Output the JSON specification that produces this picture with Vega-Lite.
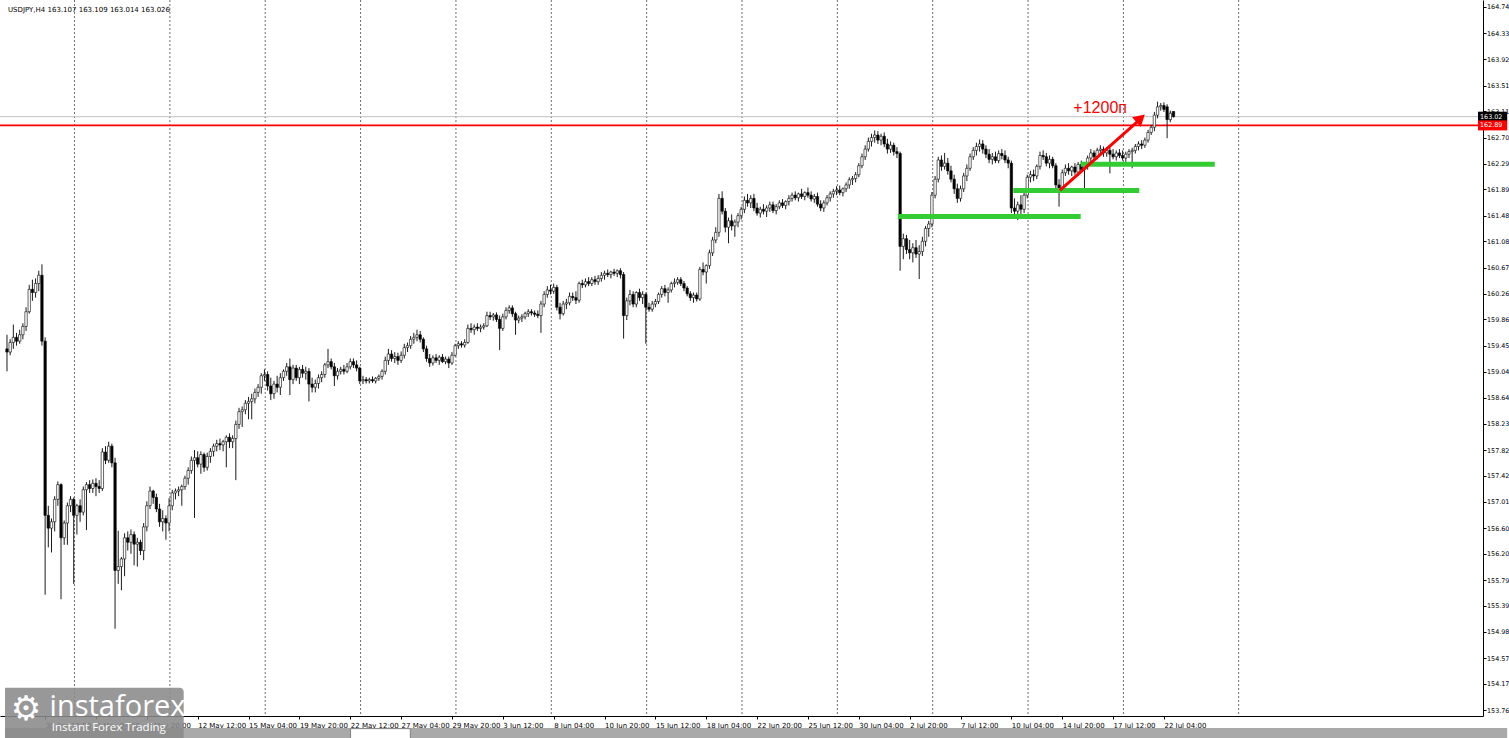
{
"$schema":"https://vega.github.io/schema/vega-lite/v6.json",
"width":1483,"height":716,
"autosize":{"type":"none"},
"padding":{"left":0,"top":0,"right":26,"bottom":22},
"background":"#ffffff",
"view":{"stroke":null},
"config":{"font":"DejaVu Sans"},
"resolve":{"axis":{"x":"independent","y":"independent"}},
"datasets":{
"k":[
{"i":0,"o":159.40,"h":159.62,"l":159.05,"c":159.35},
{"i":1,"o":159.35,"h":159.55,"l":159.30,"c":159.50},
{"i":2,"o":159.50,"h":159.78,"l":159.40,"c":159.58},
{"i":3,"o":159.58,"h":159.65,"l":159.45,"c":159.52},
{"i":4,"o":159.52,"h":159.70,"l":159.48,"c":159.62},
{"i":5,"o":159.62,"h":159.80,"l":159.55,"c":159.75},
{"i":6,"o":159.75,"h":160.05,"l":159.68,"c":159.98},
{"i":7,"o":159.98,"h":160.40,"l":159.95,"c":160.33},
{"i":8,"o":160.33,"h":160.48,"l":160.15,"c":160.28},
{"i":9,"o":160.28,"h":160.50,"l":160.20,"c":160.42},
{"i":10,"o":160.42,"h":160.62,"l":160.30,"c":160.55},
{"i":11,"o":160.55,"h":160.72,"l":159.45,"c":159.52},
{"i":12,"o":159.52,"h":159.58,"l":155.56,"c":156.80},
{"i":13,"o":156.80,"h":156.95,"l":156.30,"c":156.60},
{"i":14,"o":156.60,"h":156.75,"l":156.22,"c":156.70},
{"i":15,"o":156.70,"h":157.10,"l":156.55,"c":157.05},
{"i":16,"o":157.05,"h":157.33,"l":156.95,"c":157.28},
{"i":17,"o":157.28,"h":157.30,"l":155.49,"c":156.45},
{"i":18,"o":156.45,"h":156.72,"l":156.34,"c":156.68},
{"i":19,"o":156.68,"h":157.00,"l":156.34,"c":156.95},
{"i":20,"o":156.95,"h":157.10,"l":156.85,"c":157.05},
{"i":21,"o":157.05,"h":157.08,"l":155.73,"c":156.80},
{"i":22,"o":156.80,"h":156.98,"l":156.50,"c":156.95},
{"i":23,"o":156.95,"h":157.05,"l":156.70,"c":156.85},
{"i":24,"o":156.85,"h":157.25,"l":156.80,"c":157.20},
{"i":25,"o":157.20,"h":157.32,"l":156.57,"c":157.28},
{"i":26,"o":157.28,"h":157.35,"l":157.15,"c":157.22},
{"i":27,"o":157.22,"h":157.36,"l":157.15,"c":157.30},
{"i":28,"o":157.30,"h":157.38,"l":157.10,"c":157.25},
{"i":29,"o":157.25,"h":157.35,"l":157.15,"c":157.22},
{"i":30,"o":157.22,"h":157.85,"l":157.18,"c":157.79},
{"i":31,"o":157.79,"h":157.88,"l":157.60,"c":157.66},
{"i":32,"o":157.66,"h":157.95,"l":157.62,"c":157.88},
{"i":33,"o":157.88,"h":157.92,"l":157.55,"c":157.62},
{"i":34,"o":157.62,"h":157.70,"l":155.03,"c":155.94},
{"i":35,"o":155.94,"h":156.56,"l":155.73,"c":156.00},
{"i":36,"o":156.00,"h":156.15,"l":155.63,"c":156.12},
{"i":37,"o":156.12,"h":156.52,"l":155.85,"c":156.45},
{"i":38,"o":156.45,"h":156.55,"l":156.25,"c":156.38},
{"i":39,"o":156.38,"h":156.58,"l":156.20,"c":156.50},
{"i":40,"o":156.50,"h":156.55,"l":156.02,"c":156.35},
{"i":41,"o":156.35,"h":156.45,"l":156.00,"c":156.38},
{"i":42,"o":156.38,"h":156.42,"l":156.18,"c":156.25},
{"i":43,"o":156.25,"h":156.68,"l":156.10,"c":156.62},
{"i":44,"o":156.62,"h":157.02,"l":156.55,"c":156.95},
{"i":45,"o":156.95,"h":157.25,"l":156.90,"c":157.18},
{"i":46,"o":157.18,"h":157.20,"l":156.98,"c":157.08},
{"i":47,"o":157.08,"h":157.14,"l":156.85,"c":156.90},
{"i":48,"o":156.90,"h":156.98,"l":156.62,"c":156.70},
{"i":49,"o":156.70,"h":156.88,"l":156.55,"c":156.75},
{"i":50,"o":156.75,"h":156.80,"l":156.42,"c":156.68},
{"i":51,"o":156.68,"h":157.07,"l":156.55,"c":156.95},
{"i":52,"o":156.95,"h":157.20,"l":156.88,"c":157.15},
{"i":53,"o":157.15,"h":157.22,"l":157.05,"c":157.18},
{"i":54,"o":157.18,"h":157.25,"l":157.10,"c":157.20},
{"i":55,"o":157.20,"h":157.28,"l":156.95,"c":157.25},
{"i":56,"o":157.25,"h":157.42,"l":157.20,"c":157.38},
{"i":57,"o":157.38,"h":157.55,"l":157.28,"c":157.50},
{"i":58,"o":157.50,"h":157.72,"l":157.45,"c":157.66},
{"i":59,"o":157.66,"h":157.82,"l":156.76,"c":157.70},
{"i":60,"o":157.70,"h":157.80,"l":157.55,"c":157.60},
{"i":61,"o":157.60,"h":157.80,"l":157.45,"c":157.75},
{"i":62,"o":157.75,"h":157.78,"l":157.48,"c":157.55},
{"i":63,"o":157.55,"h":157.78,"l":157.50,"c":157.72},
{"i":64,"o":157.72,"h":157.85,"l":157.62,"c":157.80},
{"i":65,"o":157.80,"h":157.92,"l":157.72,"c":157.88},
{"i":66,"o":157.88,"h":157.98,"l":157.80,"c":157.92},
{"i":67,"o":157.92,"h":158.00,"l":157.82,"c":157.90},
{"i":68,"o":157.90,"h":157.98,"l":157.80,"c":157.95},
{"i":69,"o":157.95,"h":158.05,"l":157.55,"c":158.02},
{"i":70,"o":158.02,"h":158.08,"l":157.85,"c":157.95},
{"i":71,"o":157.95,"h":158.05,"l":157.85,"c":158.00},
{"i":72,"o":158.00,"h":158.28,"l":157.35,"c":158.22},
{"i":73,"o":158.22,"h":158.48,"l":158.15,"c":158.42},
{"i":74,"o":158.42,"h":158.50,"l":158.18,"c":158.45},
{"i":75,"o":158.45,"h":158.60,"l":158.38,"c":158.55},
{"i":76,"o":158.55,"h":158.65,"l":158.30,"c":158.58},
{"i":77,"o":158.58,"h":158.70,"l":158.30,"c":158.62},
{"i":78,"o":158.62,"h":158.78,"l":158.55,"c":158.72},
{"i":79,"o":158.72,"h":158.85,"l":158.65,"c":158.80},
{"i":80,"o":158.80,"h":159.02,"l":158.70,"c":158.98},
{"i":81,"o":158.98,"h":159.08,"l":158.90,"c":159.00},
{"i":82,"o":159.00,"h":159.05,"l":158.75,"c":158.82},
{"i":83,"o":158.82,"h":158.95,"l":158.60,"c":158.70},
{"i":84,"o":158.70,"h":158.90,"l":158.62,"c":158.85},
{"i":85,"o":158.85,"h":158.98,"l":158.72,"c":158.80},
{"i":86,"o":158.80,"h":159.02,"l":158.68,"c":158.95},
{"i":87,"o":158.95,"h":159.08,"l":158.90,"c":159.05},
{"i":88,"o":159.05,"h":159.18,"l":158.98,"c":159.12},
{"i":89,"o":159.12,"h":159.25,"l":158.68,"c":158.92},
{"i":90,"o":158.92,"h":159.15,"l":158.85,"c":159.10},
{"i":91,"o":159.10,"h":159.15,"l":158.90,"c":158.95},
{"i":92,"o":158.95,"h":159.12,"l":158.85,"c":159.08},
{"i":93,"o":159.08,"h":159.15,"l":158.95,"c":159.02},
{"i":94,"o":159.02,"h":159.12,"l":158.92,"c":159.05},
{"i":95,"o":159.05,"h":159.10,"l":158.58,"c":158.85},
{"i":96,"o":158.85,"h":158.95,"l":158.72,"c":158.80},
{"i":97,"o":158.80,"h":158.92,"l":158.72,"c":158.86},
{"i":98,"o":158.86,"h":159.00,"l":158.78,"c":158.95},
{"i":99,"o":158.95,"h":159.05,"l":158.88,"c":159.00},
{"i":100,"o":159.00,"h":159.18,"l":158.95,"c":159.15},
{"i":101,"o":159.15,"h":159.40,"l":159.10,"c":159.20},
{"i":102,"o":159.20,"h":159.25,"l":159.08,"c":159.12},
{"i":103,"o":159.12,"h":159.18,"l":158.82,"c":158.98},
{"i":104,"o":158.98,"h":159.10,"l":158.92,"c":159.05},
{"i":105,"o":159.05,"h":159.12,"l":159.00,"c":159.08},
{"i":106,"o":159.08,"h":159.15,"l":159.00,"c":159.05},
{"i":107,"o":159.05,"h":159.18,"l":159.02,"c":159.12},
{"i":108,"o":159.12,"h":159.25,"l":159.08,"c":159.20},
{"i":109,"o":159.20,"h":159.25,"l":159.10,"c":159.15},
{"i":110,"o":159.15,"h":159.22,"l":159.05,"c":159.10},
{"i":111,"o":159.10,"h":159.12,"l":158.85,"c":158.90},
{"i":112,"o":158.90,"h":158.98,"l":158.85,"c":158.92},
{"i":113,"o":158.92,"h":158.96,"l":158.86,"c":158.90},
{"i":114,"o":158.90,"h":158.95,"l":158.86,"c":158.92},
{"i":115,"o":158.92,"h":158.97,"l":158.87,"c":158.90},
{"i":116,"o":158.90,"h":158.96,"l":158.86,"c":158.94},
{"i":117,"o":158.94,"h":159.00,"l":158.90,"c":158.97},
{"i":118,"o":158.97,"h":159.08,"l":158.92,"c":159.05},
{"i":119,"o":159.05,"h":159.28,"l":159.00,"c":159.22},
{"i":120,"o":159.22,"h":159.40,"l":159.15,"c":159.32},
{"i":121,"o":159.32,"h":159.38,"l":159.20,"c":159.25},
{"i":122,"o":159.25,"h":159.35,"l":159.18,"c":159.28},
{"i":123,"o":159.28,"h":159.34,"l":159.15,"c":159.22},
{"i":124,"o":159.22,"h":159.36,"l":159.18,"c":159.30},
{"i":125,"o":159.30,"h":159.48,"l":159.25,"c":159.42},
{"i":126,"o":159.42,"h":159.50,"l":159.35,"c":159.45},
{"i":127,"o":159.45,"h":159.60,"l":159.40,"c":159.55},
{"i":128,"o":159.55,"h":159.65,"l":159.48,"c":159.58},
{"i":129,"o":159.58,"h":159.70,"l":159.52,"c":159.62},
{"i":130,"o":159.62,"h":159.68,"l":159.50,"c":159.55},
{"i":131,"o":159.55,"h":159.58,"l":159.35,"c":159.40},
{"i":132,"o":159.40,"h":159.45,"l":159.20,"c":159.25},
{"i":133,"o":159.25,"h":159.32,"l":159.12,"c":159.18},
{"i":134,"o":159.18,"h":159.30,"l":159.14,"c":159.26},
{"i":135,"o":159.26,"h":159.32,"l":159.18,"c":159.22},
{"i":136,"o":159.22,"h":159.30,"l":159.15,"c":159.27},
{"i":137,"o":159.27,"h":159.32,"l":159.18,"c":159.20},
{"i":138,"o":159.20,"h":159.28,"l":159.16,"c":159.24},
{"i":139,"o":159.24,"h":159.28,"l":159.10,"c":159.18},
{"i":140,"o":159.18,"h":159.35,"l":159.15,"c":159.30},
{"i":141,"o":159.30,"h":159.48,"l":159.28,"c":159.45},
{"i":142,"o":159.45,"h":159.52,"l":159.40,"c":159.48},
{"i":143,"o":159.48,"h":159.52,"l":159.42,"c":159.46},
{"i":144,"o":159.46,"h":159.55,"l":159.42,"c":159.50},
{"i":145,"o":159.50,"h":159.78,"l":159.48,"c":159.72},
{"i":146,"o":159.72,"h":159.80,"l":159.65,"c":159.70},
{"i":147,"o":159.70,"h":159.78,"l":159.62,"c":159.74},
{"i":148,"o":159.74,"h":159.80,"l":159.68,"c":159.72},
{"i":149,"o":159.72,"h":159.78,"l":159.66,"c":159.74},
{"i":150,"o":159.74,"h":159.80,"l":159.70,"c":159.76},
{"i":151,"o":159.76,"h":159.98,"l":159.74,"c":159.92},
{"i":152,"o":159.92,"h":159.98,"l":159.85,"c":159.90},
{"i":153,"o":159.90,"h":159.96,"l":159.84,"c":159.93},
{"i":154,"o":159.93,"h":159.97,"l":159.82,"c":159.86},
{"i":155,"o":159.86,"h":159.92,"l":159.38,"c":159.72},
{"i":156,"o":159.72,"h":159.95,"l":159.68,"c":159.90},
{"i":157,"o":159.90,"h":160.05,"l":159.86,"c":160.00},
{"i":158,"o":160.00,"h":160.08,"l":159.95,"c":160.04},
{"i":159,"o":160.04,"h":160.08,"l":159.90,"c":159.95},
{"i":160,"o":159.95,"h":159.98,"l":159.62,"c":159.85},
{"i":161,"o":159.85,"h":159.92,"l":159.80,"c":159.88},
{"i":162,"o":159.88,"h":159.94,"l":159.82,"c":159.90},
{"i":163,"o":159.90,"h":159.98,"l":159.86,"c":159.95},
{"i":164,"o":159.95,"h":160.02,"l":159.90,"c":159.98},
{"i":165,"o":159.98,"h":160.02,"l":159.92,"c":159.96},
{"i":166,"o":159.96,"h":160.00,"l":159.90,"c":159.94},
{"i":167,"o":159.94,"h":160.00,"l":159.88,"c":159.92},
{"i":168,"o":159.92,"h":160.15,"l":159.65,"c":160.10},
{"i":169,"o":160.10,"h":160.30,"l":160.05,"c":160.25},
{"i":170,"o":160.25,"h":160.38,"l":160.20,"c":160.32},
{"i":171,"o":160.32,"h":160.40,"l":160.25,"c":160.30},
{"i":172,"o":160.30,"h":160.42,"l":160.26,"c":160.36},
{"i":173,"o":160.36,"h":160.40,"l":160.00,"c":160.05},
{"i":174,"o":160.05,"h":160.12,"l":159.86,"c":159.95},
{"i":175,"o":159.95,"h":160.15,"l":159.92,"c":160.10},
{"i":176,"o":160.10,"h":160.18,"l":160.02,"c":160.12},
{"i":177,"o":160.12,"h":160.28,"l":160.08,"c":160.22},
{"i":178,"o":160.22,"h":160.28,"l":160.15,"c":160.20},
{"i":179,"o":160.20,"h":160.30,"l":160.10,"c":160.16},
{"i":180,"o":160.16,"h":160.45,"l":160.12,"c":160.42},
{"i":181,"o":160.42,"h":160.48,"l":160.35,"c":160.40},
{"i":182,"o":160.40,"h":160.50,"l":160.36,"c":160.45},
{"i":183,"o":160.45,"h":160.52,"l":160.38,"c":160.42},
{"i":184,"o":160.42,"h":160.52,"l":160.38,"c":160.48},
{"i":185,"o":160.48,"h":160.54,"l":160.40,"c":160.45},
{"i":186,"o":160.45,"h":160.55,"l":160.40,"c":160.50},
{"i":187,"o":160.50,"h":160.60,"l":160.45,"c":160.55},
{"i":188,"o":160.55,"h":160.62,"l":160.48,"c":160.58},
{"i":189,"o":160.58,"h":160.64,"l":160.52,"c":160.56},
{"i":190,"o":160.56,"h":160.62,"l":160.50,"c":160.60},
{"i":191,"o":160.60,"h":160.65,"l":160.54,"c":160.58},
{"i":192,"o":160.58,"h":160.64,"l":160.52,"c":160.62},
{"i":193,"o":160.62,"h":160.66,"l":160.50,"c":160.56},
{"i":194,"o":160.56,"h":160.60,"l":159.56,"c":159.92},
{"i":195,"o":159.92,"h":160.20,"l":159.85,"c":160.15},
{"i":196,"o":160.15,"h":160.32,"l":160.08,"c":160.25},
{"i":197,"o":160.25,"h":160.30,"l":160.05,"c":160.10},
{"i":198,"o":160.10,"h":160.30,"l":160.05,"c":160.28},
{"i":199,"o":160.28,"h":160.34,"l":160.15,"c":160.20},
{"i":200,"o":160.20,"h":160.30,"l":160.10,"c":160.25},
{"i":201,"o":160.25,"h":160.28,"l":159.48,"c":160.05},
{"i":202,"o":160.05,"h":160.12,"l":159.98,"c":160.02},
{"i":203,"o":160.02,"h":160.15,"l":159.98,"c":160.10},
{"i":204,"o":160.10,"h":160.18,"l":160.05,"c":160.14},
{"i":205,"o":160.14,"h":160.28,"l":160.10,"c":160.25},
{"i":206,"o":160.25,"h":160.38,"l":160.20,"c":160.34},
{"i":207,"o":160.34,"h":160.40,"l":160.22,"c":160.28},
{"i":208,"o":160.28,"h":160.36,"l":160.12,"c":160.32},
{"i":209,"o":160.32,"h":160.45,"l":160.28,"c":160.42},
{"i":210,"o":160.42,"h":160.50,"l":160.36,"c":160.44},
{"i":211,"o":160.44,"h":160.52,"l":160.40,"c":160.48},
{"i":212,"o":160.48,"h":160.52,"l":160.38,"c":160.42},
{"i":213,"o":160.42,"h":160.46,"l":160.30,"c":160.35},
{"i":214,"o":160.35,"h":160.38,"l":160.22,"c":160.26},
{"i":215,"o":160.26,"h":160.30,"l":160.15,"c":160.20},
{"i":216,"o":160.20,"h":160.28,"l":160.12,"c":160.24},
{"i":217,"o":160.24,"h":160.28,"l":160.14,"c":160.18},
{"i":218,"o":160.18,"h":160.68,"l":160.15,"c":160.64},
{"i":219,"o":160.64,"h":160.75,"l":160.55,"c":160.60},
{"i":220,"o":160.60,"h":160.72,"l":160.42,"c":160.70},
{"i":221,"o":160.70,"h":160.95,"l":160.65,"c":160.90},
{"i":222,"o":160.90,"h":161.15,"l":160.85,"c":161.10},
{"i":223,"o":161.10,"h":161.30,"l":161.05,"c":161.22},
{"i":224,"o":161.22,"h":161.82,"l":161.15,"c":161.75},
{"i":225,"o":161.75,"h":161.86,"l":161.50,"c":161.55},
{"i":226,"o":161.55,"h":161.60,"l":161.22,"c":161.30},
{"i":227,"o":161.30,"h":161.45,"l":161.05,"c":161.40},
{"i":228,"o":161.40,"h":161.50,"l":161.25,"c":161.32},
{"i":229,"o":161.32,"h":161.42,"l":161.15,"c":161.38},
{"i":230,"o":161.38,"h":161.52,"l":161.30,"c":161.48},
{"i":231,"o":161.48,"h":161.62,"l":161.42,"c":161.58},
{"i":232,"o":161.58,"h":161.78,"l":161.52,"c":161.72},
{"i":233,"o":161.72,"h":161.82,"l":161.62,"c":161.68},
{"i":234,"o":161.68,"h":161.80,"l":161.60,"c":161.75},
{"i":235,"o":161.75,"h":161.82,"l":161.55,"c":161.60},
{"i":236,"o":161.60,"h":161.68,"l":161.48,"c":161.52},
{"i":237,"o":161.52,"h":161.62,"l":161.45,"c":161.58},
{"i":238,"o":161.58,"h":161.66,"l":161.50,"c":161.55},
{"i":239,"o":161.55,"h":161.64,"l":161.46,"c":161.60},
{"i":240,"o":161.60,"h":161.70,"l":161.54,"c":161.65},
{"i":241,"o":161.65,"h":161.70,"l":161.52,"c":161.56},
{"i":242,"o":161.56,"h":161.66,"l":161.50,"c":161.62},
{"i":243,"o":161.62,"h":161.72,"l":161.58,"c":161.68},
{"i":244,"o":161.68,"h":161.74,"l":161.60,"c":161.64},
{"i":245,"o":161.64,"h":161.72,"l":161.58,"c":161.70},
{"i":246,"o":161.70,"h":161.80,"l":161.64,"c":161.75},
{"i":247,"o":161.75,"h":161.84,"l":161.70,"c":161.80},
{"i":248,"o":161.80,"h":161.86,"l":161.72,"c":161.76},
{"i":249,"o":161.76,"h":161.84,"l":161.70,"c":161.82},
{"i":250,"o":161.82,"h":161.90,"l":161.74,"c":161.78},
{"i":251,"o":161.78,"h":161.86,"l":161.72,"c":161.84},
{"i":252,"o":161.84,"h":161.92,"l":161.76,"c":161.80},
{"i":253,"o":161.80,"h":161.86,"l":161.70,"c":161.74},
{"i":254,"o":161.74,"h":161.82,"l":161.68,"c":161.78},
{"i":255,"o":161.78,"h":161.84,"l":161.62,"c":161.66},
{"i":256,"o":161.66,"h":161.72,"l":161.55,"c":161.60},
{"i":257,"o":161.60,"h":161.72,"l":161.54,"c":161.68},
{"i":258,"o":161.68,"h":161.80,"l":161.64,"c":161.76},
{"i":259,"o":161.76,"h":161.86,"l":161.70,"c":161.82},
{"i":260,"o":161.82,"h":161.90,"l":161.76,"c":161.86},
{"i":261,"o":161.86,"h":161.94,"l":161.80,"c":161.88},
{"i":262,"o":161.88,"h":161.95,"l":161.80,"c":161.84},
{"i":263,"o":161.84,"h":161.92,"l":161.78,"c":161.90},
{"i":264,"o":161.90,"h":162.00,"l":161.85,"c":161.96},
{"i":265,"o":161.96,"h":162.08,"l":161.90,"c":162.04},
{"i":266,"o":162.04,"h":162.10,"l":161.96,"c":162.06},
{"i":267,"o":162.06,"h":162.16,"l":162.00,"c":162.12},
{"i":268,"o":162.12,"h":162.30,"l":162.08,"c":162.26},
{"i":269,"o":162.26,"h":162.45,"l":162.22,"c":162.40},
{"i":270,"o":162.40,"h":162.58,"l":162.35,"c":162.52},
{"i":271,"o":162.52,"h":162.70,"l":162.48,"c":162.64},
{"i":272,"o":162.64,"h":162.76,"l":162.56,"c":162.70},
{"i":273,"o":162.70,"h":162.81,"l":162.62,"c":162.74},
{"i":274,"o":162.74,"h":162.80,"l":162.60,"c":162.66},
{"i":275,"o":162.66,"h":162.76,"l":162.58,"c":162.72},
{"i":276,"o":162.72,"h":162.78,"l":162.55,"c":162.60},
{"i":277,"o":162.60,"h":162.68,"l":162.45,"c":162.52},
{"i":278,"o":162.52,"h":162.64,"l":162.46,"c":162.58},
{"i":279,"o":162.58,"h":162.62,"l":162.42,"c":162.48},
{"i":280,"o":162.48,"h":162.55,"l":162.38,"c":162.45},
{"i":281,"o":162.45,"h":162.48,"l":160.62,"c":161.00},
{"i":282,"o":161.00,"h":161.20,"l":160.80,"c":161.12},
{"i":283,"o":161.12,"h":161.18,"l":160.88,"c":160.95},
{"i":284,"o":160.95,"h":161.10,"l":160.80,"c":160.90},
{"i":285,"o":160.90,"h":161.05,"l":160.75,"c":160.98},
{"i":286,"o":160.98,"h":161.10,"l":160.82,"c":160.88},
{"i":287,"o":160.88,"h":161.02,"l":160.49,"c":160.92},
{"i":288,"o":160.92,"h":161.15,"l":160.85,"c":161.08},
{"i":289,"o":161.08,"h":161.32,"l":161.00,"c":161.28},
{"i":290,"o":161.28,"h":161.40,"l":161.15,"c":161.35},
{"i":291,"o":161.35,"h":161.85,"l":161.30,"c":161.80},
{"i":292,"o":161.80,"h":162.10,"l":161.75,"c":162.05},
{"i":293,"o":162.05,"h":162.40,"l":162.00,"c":162.35},
{"i":294,"o":162.35,"h":162.42,"l":162.18,"c":162.25},
{"i":295,"o":162.25,"h":162.46,"l":162.20,"c":162.30},
{"i":296,"o":162.30,"h":162.38,"l":162.12,"c":162.18},
{"i":297,"o":162.18,"h":162.26,"l":162.00,"c":162.05},
{"i":298,"o":162.05,"h":162.12,"l":161.82,"c":161.90},
{"i":299,"o":161.90,"h":161.98,"l":161.68,"c":161.75},
{"i":300,"o":161.75,"h":161.95,"l":161.70,"c":161.90},
{"i":301,"o":161.90,"h":162.15,"l":161.85,"c":162.10},
{"i":302,"o":162.10,"h":162.28,"l":162.02,"c":162.22},
{"i":303,"o":162.22,"h":162.45,"l":162.18,"c":162.40},
{"i":304,"o":162.40,"h":162.55,"l":162.35,"c":162.50},
{"i":305,"o":162.50,"h":162.62,"l":162.42,"c":162.56},
{"i":306,"o":162.56,"h":162.67,"l":162.48,"c":162.60},
{"i":307,"o":162.60,"h":162.66,"l":162.45,"c":162.52},
{"i":308,"o":162.52,"h":162.58,"l":162.38,"c":162.44},
{"i":309,"o":162.44,"h":162.52,"l":162.30,"c":162.36},
{"i":310,"o":162.36,"h":162.46,"l":162.28,"c":162.40},
{"i":311,"o":162.40,"h":162.48,"l":162.30,"c":162.34},
{"i":312,"o":162.34,"h":162.50,"l":162.30,"c":162.45},
{"i":313,"o":162.45,"h":162.52,"l":162.36,"c":162.42},
{"i":314,"o":162.42,"h":162.50,"l":162.30,"c":162.35},
{"i":315,"o":162.35,"h":162.40,"l":162.22,"c":162.30},
{"i":316,"o":162.30,"h":162.34,"l":161.52,"c":161.60},
{"i":317,"o":161.60,"h":161.75,"l":161.45,"c":161.55},
{"i":318,"o":161.55,"h":161.70,"l":161.41,"c":161.65},
{"i":319,"o":161.65,"h":161.80,"l":161.50,"c":161.58},
{"i":320,"o":161.58,"h":161.85,"l":161.52,"c":161.80},
{"i":321,"o":161.80,"h":162.12,"l":161.75,"c":162.08},
{"i":322,"o":162.08,"h":162.18,"l":162.00,"c":162.12},
{"i":323,"o":162.12,"h":162.20,"l":162.02,"c":162.10},
{"i":324,"o":162.10,"h":162.28,"l":162.05,"c":162.25},
{"i":325,"o":162.25,"h":162.48,"l":162.20,"c":162.42},
{"i":326,"o":162.42,"h":162.50,"l":162.35,"c":162.40},
{"i":327,"o":162.40,"h":162.46,"l":162.25,"c":162.30},
{"i":328,"o":162.30,"h":162.42,"l":162.22,"c":162.36},
{"i":329,"o":162.36,"h":162.40,"l":162.22,"c":162.26},
{"i":330,"o":162.26,"h":162.30,"l":161.90,"c":161.96},
{"i":331,"o":161.96,"h":162.05,"l":161.62,"c":161.90},
{"i":332,"o":161.90,"h":162.20,"l":161.85,"c":162.15},
{"i":333,"o":162.15,"h":162.28,"l":162.10,"c":162.22},
{"i":334,"o":162.22,"h":162.30,"l":162.12,"c":162.18},
{"i":335,"o":162.18,"h":162.26,"l":162.10,"c":162.24},
{"i":336,"o":162.24,"h":162.30,"l":162.12,"c":162.16},
{"i":337,"o":162.16,"h":162.32,"l":162.10,"c":162.28},
{"i":338,"o":162.28,"h":162.34,"l":162.15,"c":162.20},
{"i":339,"o":162.20,"h":162.30,"l":161.88,"c":162.26},
{"i":340,"o":162.26,"h":162.42,"l":162.20,"c":162.38},
{"i":341,"o":162.38,"h":162.52,"l":162.32,"c":162.46},
{"i":342,"o":162.46,"h":162.50,"l":162.34,"c":162.40},
{"i":343,"o":162.40,"h":162.54,"l":162.36,"c":162.50},
{"i":344,"o":162.50,"h":162.58,"l":162.42,"c":162.52},
{"i":345,"o":162.52,"h":162.56,"l":162.40,"c":162.46},
{"i":346,"o":162.46,"h":162.55,"l":162.40,"c":162.50},
{"i":347,"o":162.50,"h":162.54,"l":162.14,"c":162.44},
{"i":348,"o":162.44,"h":162.52,"l":162.36,"c":162.40},
{"i":349,"o":162.40,"h":162.50,"l":162.34,"c":162.46},
{"i":350,"o":162.46,"h":162.52,"l":162.38,"c":162.42},
{"i":351,"o":162.42,"h":162.50,"l":162.34,"c":162.38},
{"i":352,"o":162.38,"h":162.48,"l":162.32,"c":162.44},
{"i":353,"o":162.44,"h":162.52,"l":162.38,"c":162.48},
{"i":354,"o":162.48,"h":162.54,"l":162.22,"c":162.50},
{"i":355,"o":162.50,"h":162.60,"l":162.45,"c":162.56},
{"i":356,"o":162.56,"h":162.64,"l":162.50,"c":162.60},
{"i":357,"o":162.60,"h":162.66,"l":162.52,"c":162.58},
{"i":358,"o":162.58,"h":162.70,"l":162.54,"c":162.66},
{"i":359,"o":162.66,"h":162.82,"l":162.62,"c":162.78},
{"i":360,"o":162.78,"h":162.90,"l":162.74,"c":162.86},
{"i":361,"o":162.86,"h":163.10,"l":162.80,"c":163.05},
{"i":362,"o":163.05,"h":163.26,"l":163.00,"c":163.18},
{"i":363,"o":163.18,"h":163.24,"l":163.12,"c":163.20},
{"i":364,"o":163.20,"h":163.25,"l":163.10,"c":163.14},
{"i":365,"o":163.18,"h":163.22,"l":162.69,"c":162.98},
{"i":366,"o":162.98,"h":163.12,"l":162.94,"c":163.08},
{"i":367,"o":163.107,"h":163.109,"l":163.014,"c":163.026}
],
"wk":[{"g":21.25},{"g":51.25},{"g":81.25},{"g":111.25},{"g":141.25},{"g":171.25},{"g":201.25},{"g":231.25},{"g":261.25},{"g":291.25},{"g":321.25},{"g":351.25},{"g":387.5}],
"lv":[{"a":280.3,"b":337.8,"p":161.467},{"a":316.6,"b":356.25,"p":161.875},{"a":337.8,"b":380.0,"p":162.283}],
"px":[{"p":163.026,"t":"163.02"},{"p":162.89,"t":"162.89"}]
},
"layer":[
{"data":{"name":"wk"},"mark":{"type":"rule","stroke":"#6e6e6e","strokeDash":[2,2],"strokeWidth":1},
 "encoding":{"x":{"field":"g","type":"quantitative","axis":null,"scale":{"domain":[-0.625,462.8125],"nice":false,"zero":false}}}},
{"data":{"values":[{}]},"mark":{"type":"rule","stroke":"#c0c0c0","strokeWidth":1},
 "encoding":{"y":{"datum":163.026,"type":"quantitative","axis":null,"scale":{"domain":[153.745,164.77],"nice":false,"zero":false}}}},
{"data":{"values":[{}]},"mark":{"type":"rule","stroke":"#ff0000","strokeWidth":1.6},
 "encoding":{"y":{"datum":162.89,"type":"quantitative","axis":null,"scale":{"domain":[153.745,164.77],"nice":false,"zero":false}}}},
{"data":{"name":"k"},"mark":{"type":"rule","stroke":"#000000","strokeWidth":0.9},
 "encoding":{
  "x":{"field":"i","type":"quantitative","title":null,"scale":{"domain":[-0.625,462.8125],"nice":false,"zero":false},
   "axis":{"orient":"bottom","title":null,"grid":false,"values":[12,28,44,60,76,92,108,124,140,156,172,188,204,220,236,252,268,284,300,316,332,348,364],
    "labelExpr":"['30 Apr 12:00','3 May 04:00','7 May 20:00','12 May 12:00','15 May 04:00','19 May 20:00','22 May 12:00','27 May 04:00','29 May 20:00','3 Jun 12:00','8 Jun 04:00','10 Jun 20:00','15 Jun 12:00','18 Jun 04:00','22 Jun 20:00','25 Jun 12:00','30 Jun 04:00','2 Jul 20:00','7 Jul 12:00','10 Jul 04:00','14 Jul 20:00','17 Jul 12:00','22 Jul 04:00'][(datum.value-12)/16]",
    "labelAlign":"left","labelDx":1,"labelFlush":false,"labelOverlap":false,"labelFont":"DejaVu Sans","labelFontSize":7,"labelColor":"#000000","tickColor":"#000000","tickSize":3,"labelPadding":2,"domainColor":"#000000","domainWidth":1}},
  "y":{"field":"l","type":"quantitative","title":null,"scale":{"domain":[153.745,164.77],"nice":false,"zero":false},
   "axis":{"orient":"right","title":null,"grid":false,"values":[164.74,164.33,163.92,163.51,163.11,162.70,162.29,161.89,161.48,161.08,160.67,160.26,159.86,159.45,159.04,158.64,158.23,157.82,157.42,157.01,156.60,156.20,155.79,155.39,154.98,154.57,154.17,153.76],
    "format":".2f","labelFlush":false,"labelOverlap":false,"labelFont":"DejaVu Sans","labelFontSize":6.4,"labelColor":"#000000","tickColor":"#000000","tickSize":3,"labelPadding":0.5,"domainColor":"#000000","domainWidth":1}},
  "y2":{"field":"h"}}},
{"data":{"name":"k"},"mark":{"type":"bar","size":2.4,"stroke":"#000000","strokeWidth":0.6},
 "encoding":{
  "x":{"field":"i","type":"quantitative","axis":null,"scale":{"domain":[-0.625,462.8125],"nice":false,"zero":false}},
  "y":{"field":"o","type":"quantitative","axis":null,"scale":{"domain":[153.745,164.77],"nice":false,"zero":false}},
  "y2":{"field":"c"},
  "fill":{"condition":{"test":"datum.c < datum.o","value":"#000000"},"value":"#ffffff"}}},
{"data":{"name":"lv"},"mark":{"type":"rule","stroke":"#33cc33","strokeWidth":5,"strokeCap":"butt"},
 "encoding":{
  "x":{"field":"a","type":"quantitative","axis":null,"scale":{"domain":[-0.625,462.8125],"nice":false,"zero":false}},
  "x2":{"field":"b"},
  "y":{"field":"p","type":"quantitative","axis":null,"scale":{"domain":[153.745,164.77],"nice":false,"zero":false}}}},
{"data":{"values":[{}]},"mark":{"type":"rule","stroke":"#ff0000","strokeWidth":3},
 "encoding":{
  "x":{"datum":331.25,"type":"quantitative","axis":null,"scale":{"domain":[-0.625,462.8125],"nice":false,"zero":false}},
  "x2":{"datum":356.4},
  "y":{"datum":161.875,"type":"quantitative","axis":null,"scale":{"domain":[153.745,164.77],"nice":false,"zero":false}},
  "y2":{"datum":162.98}}},
{"data":{"values":[{}]},"mark":{"type":"point","shape":"triangle-up","filled":true,"fill":"#ff0000","stroke":null,"size":170,"angle":48,"opacity":1},
 "encoding":{
  "x":{"datum":356.66,"type":"quantitative","axis":null,"scale":{"domain":[-0.625,462.8125],"nice":false,"zero":false}},
  "y":{"datum":163.0,"type":"quantitative","axis":null,"scale":{"domain":[153.745,164.77],"nice":false,"zero":false}}}},
{"data":{"values":[{}]},"mark":{"type":"text","text":"+1200п","font":"Liberation Sans","fontSize":16,"fill":"#ff0000","align":"left","baseline":"middle"},
 "encoding":{
  "x":{"datum":335.5,"type":"quantitative","axis":null,"scale":{"domain":[-0.625,462.8125],"nice":false,"zero":false}},
  "y":{"datum":163.168,"type":"quantitative","axis":null,"scale":{"domain":[153.745,164.77],"nice":false,"zero":false}}}},
{"data":{"values":[{}]},"mark":{"type":"text","text":"USDJPY,H4  163.107 163.109 163.014 163.026","font":"DejaVu Sans","fontSize":7,"fill":"#000000","align":"left","baseline":"top","dx":3,"dy":1},
 "encoding":{
  "x":{"datum":-0.625,"type":"quantitative","axis":null,"scale":{"domain":[-0.625,462.8125],"nice":false,"zero":false}},
  "y":{"datum":164.77,"type":"quantitative","axis":null,"scale":{"domain":[153.745,164.77],"nice":false,"zero":false}}}},
{"data":{"name":"px"},"mark":{"type":"bar","size":10},
 "encoding":{
  "x":{"datum":462.8125,"type":"quantitative","axis":null,"scale":{"domain":[-0.625,462.8125],"nice":false,"zero":false}},
  "x2":{"datum":472},
  "y":{"field":"p","type":"quantitative","axis":null,"scale":{"domain":[153.745,164.77],"nice":false,"zero":false}},
  "color":{"condition":{"test":"datum.t == '162.89'","value":"#ff0000"},"value":"#000000"}}},
{"data":{"name":"px"},"mark":{"type":"text","font":"DejaVu Sans","fontSize":6.4,"fill":"#ffffff","align":"left","baseline":"middle","dx":2},
 "encoding":{
  "x":{"datum":462.8125,"type":"quantitative","axis":null,"scale":{"domain":[-0.625,462.8125],"nice":false,"zero":false}},
  "y":{"field":"p","type":"quantitative","axis":null,"scale":{"domain":[153.745,164.77],"nice":false,"zero":false}},
  "text":{"field":"t"}}},
{"data":{"values":[{}]},"mark":{"type":"rect","fill":"#a9a9a9"},
 "encoding":{
  "x":{"datum":-0.625,"type":"quantitative","axis":null,"scale":{"domain":[-0.625,462.8125],"nice":false,"zero":false}},
  "x2":{"datum":472},
  "y":{"datum":153.48,"type":"quantitative","axis":null,"scale":{"domain":[153.745,164.77],"nice":false,"zero":false}},
  "y2":{"datum":153.3}}},
{"data":{"values":[{}]},"mark":{"type":"rect","fill":"#ffffff","stroke":"#808080","strokeWidth":1},
 "encoding":{
  "x":{"datum":108.1,"type":"quantitative","axis":null,"scale":{"domain":[-0.625,462.8125],"nice":false,"zero":false}},
  "x2":{"datum":126.9},
  "y":{"datum":153.47,"type":"quantitative","axis":null,"scale":{"domain":[153.745,164.77],"nice":false,"zero":false}},
  "y2":{"datum":153.3}}},
{"data":{"values":[{}]},"mark":{"type":"rect","fill":"#8a8a8a","opacity":0.88,"cornerRadiusTopRight":4},
 "encoding":{
  "x":{"datum":-0.625,"type":"quantitative","axis":null,"scale":{"domain":[-0.625,462.8125],"nice":false,"zero":false}},
  "x2":{"datum":55.6},
  "y":{"datum":154.107,"type":"quantitative","axis":null,"scale":{"domain":[153.745,164.77],"nice":false,"zero":false}},
  "y2":{"datum":153.3}}},
{"data":{"values":[{}]},"mark":{"type":"text","text":"⚙","font":"DejaVu Sans","fontSize":34,"fill":"#ffffff","align":"center","baseline":"middle"},
 "encoding":{
  "x":{"datum":6.0,"type":"quantitative","axis":null,"scale":{"domain":[-0.625,462.8125],"nice":false,"zero":false}},
  "y":{"datum":153.76,"type":"quantitative","axis":null,"scale":{"domain":[153.745,164.77],"nice":false,"zero":false}}}},
{"data":{"values":[{}]},"mark":{"type":"text","text":"instaforex","font":"Open Sans","fontSize":29,"fill":"#ffffff","align":"left","baseline":"alphabetic"},
 "encoding":{
  "x":{"datum":13.4,"type":"quantitative","axis":null,"scale":{"domain":[-0.625,462.8125],"nice":false,"zero":false}},
  "y":{"datum":153.66,"type":"quantitative","axis":null,"scale":{"domain":[153.745,164.77],"nice":false,"zero":false}}}},
{"data":{"values":[{}]},"mark":{"type":"text","text":"Instant Forex Trading","font":"Open Sans","fontSize":11.5,"fill":"#ffffff","align":"left","baseline":"alphabetic"},
 "encoding":{
  "x":{"datum":14.1,"type":"quantitative","axis":null,"scale":{"domain":[-0.625,462.8125],"nice":false,"zero":false}},
  "y":{"datum":153.44,"type":"quantitative","axis":null,"scale":{"domain":[153.745,164.77],"nice":false,"zero":false}}}}
]
}
